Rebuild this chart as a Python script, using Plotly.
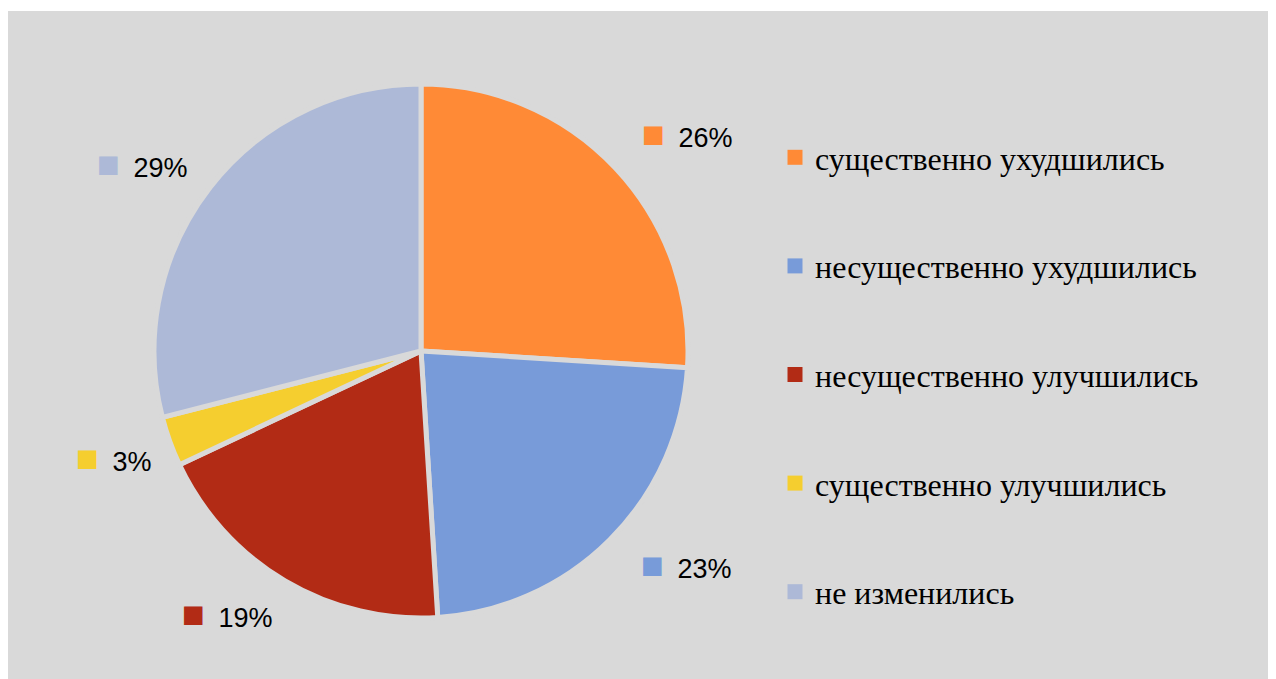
import math
import plotly.graph_objects as go

categories = ["существенно ухудшились", "несущественно ухудшились",
              "несущественно улучшились", "существенно улучшились", "не изменились"]
values = [26, 23, 19, 3, 29]
colors = ["#FF8A36", "#789BD9", "#B22B15", "#F5CE2F", "#ADB9D7"]

# per-label nudges (pixels) relative to the radial default placement
label_nudge = [(21, 13), (28, -24), (-22, -27), (9, -7), (-13, 19)]

W, H = 1276, 679
OFF = 8  # page body margin
BG = "#D9D9D9"

# pie geometry (screen pixels, converted to figure pixels)
cx, cy, R = 421 - OFF, 351 - OFF, 267
dom_x = [(cx - R) / W, (cx + R) / W]
dom_y = [(H - cy - R) / H, (H - cy + R) / H]

fig = go.Figure()
fig.add_trace(go.Pie(
    labels=categories, values=values, sort=False, direction="clockwise",
    rotation=0, textinfo="none", hoverinfo="label+percent",
    marker=dict(colors=colors, line=dict(color=BG, width=5)),
    domain=dict(x=dom_x, y=dom_y), showlegend=False,
))

# data labels placed outside each slice, derived from the values
total = sum(values)
cum = 0
for v, c, (nx, ny) in zip(values, colors, label_nudge):
    mid = (cum + v / 2) / total * 2 * math.pi
    cum += v
    lx = cx + 1.26 * R * math.sin(mid) + nx
    ly = cy - 1.26 * R * math.cos(mid) + ny
    fig.add_annotation(
        x=lx / W, y=(H - ly) / H, xref="paper", yref="paper",
        text=f"<span style='color:{c};font-size:38px'>■</span>&#8194;{round(v / total * 100)}%",
        showarrow=False, font=dict(family="Liberation Sans", size=27, color="#000000"),
        xanchor="center", yanchor="middle",
    )

# legend entries
for i, (name, c) in enumerate(zip(categories, colors)):
    fig.add_trace(go.Scatter(
        x=[None], y=[None], mode="markers", name=name, legendgroup=f"g{i}",
        marker=dict(symbol="square", size=15, color=c),
    ))

fig.add_shape(type="rect", xref="paper", yref="paper",
              x0=-0.01, x1=1.01, y0=-0.01, y1=(H - 3) / H,
              fillcolor=BG, line=dict(width=0), layer="below")

fig.update_layout(
    width=W, height=H, margin=dict(l=0, r=0, t=0, b=0),
    paper_bgcolor="white", plot_bgcolor="rgba(0,0,0,0)",
    xaxis=dict(visible=False), yaxis=dict(visible=False),
    legend=dict(x=(775 - OFF) / W, y=(H - 138 + OFF + 8) / H, xanchor="left", yanchor="top",
                font=dict(family="Liberation Serif", size=32, color="#000000"),
                bgcolor="rgba(0,0,0,0)", tracegroupgap=64, itemsizing="trace"),
)

fig.write_html("out.html")
